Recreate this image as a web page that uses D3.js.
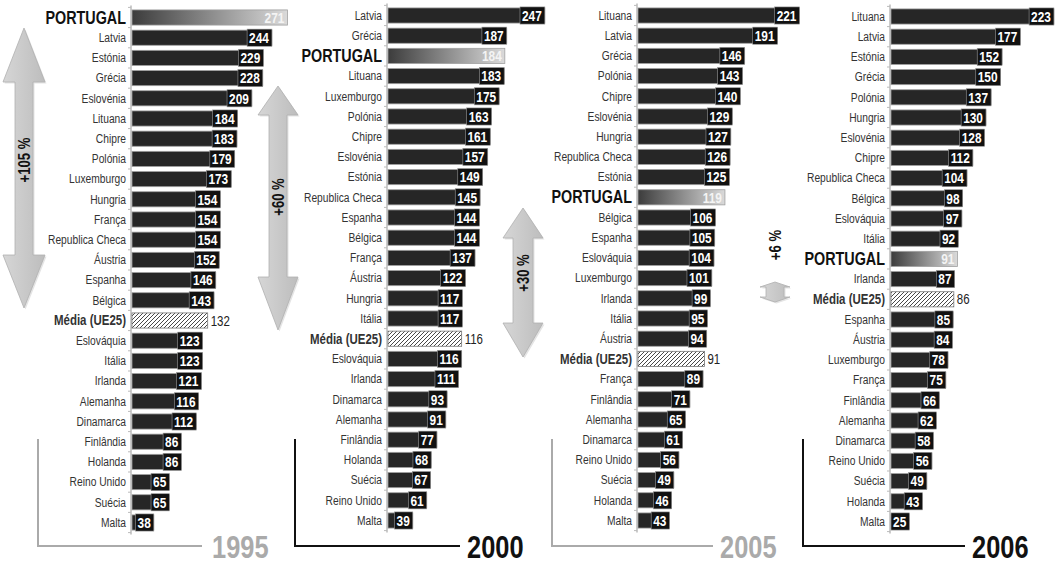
<!DOCTYPE html>
<html>
<head>
<meta charset="utf-8">
<script src="https://cdn.jsdelivr.net/npm/d3@7"></script>
<style>
  html, body { margin: 0; padding: 0; background: #fff; }
  svg { display: block; }
  text { font-family: "Liberation Sans", Arial, sans-serif; }
</style>
</head>
<body>
<svg id="chart" width="1058" height="564"></svg>
<script>
// data
const years = ['1995', '2000', '2005', '2006'];
const growth = ['+105 %', '+60 %', '+30 %', '+6 %'];

const cats1995 = ['PORTUGAL', 'Latvia', 'Estónia', 'Grécia', 'Eslovénia', 'Lituana', 'Chipre', 'Polónia', 'Luxemburgo', 'Hungria', 'França', 'Republica Checa', 'Áustria', 'Espanha', 'Bélgica', 'Média (UE25)', 'Eslováquia', 'Itália', 'Irlanda', 'Alemanha', 'Dinamarca', 'Finlândia', 'Holanda', 'Reino Unido', 'Suécia', 'Malta'];
const vals1995 = [271, 244, 229, 228, 209, 184, 183, 179, 173, 154, 154, 154, 152, 146, 143, 132, 123, 123, 121, 116, 112, 86, 86, 65, 65, 38];

const cats2000 = ['Latvia', 'Grécia', 'PORTUGAL', 'Lituana', 'Luxemburgo', 'Polónia', 'Chipre', 'Eslovénia', 'Estónia', 'Republica Checa', 'Espanha', 'Bélgica', 'França', 'Áustria', 'Hungria', 'Itália', 'Média (UE25)', 'Eslováquia', 'Irlanda', 'Dinamarca', 'Alemanha', 'Finlândia', 'Holanda', 'Suécia', 'Reino Unido', 'Malta'];
const vals2000 = [247, 187, 184, 183, 175, 163, 161, 157, 149, 145, 144, 144, 137, 122, 117, 117, 116, 116, 111, 93, 91, 77, 68, 67, 61, 39];

const cats2005 = ['Lituana', 'Latvia', 'Grécia', 'Polónia', 'Chipre', 'Eslovénia', 'Hungria', 'Republica Checa', 'Estónia', 'PORTUGAL', 'Bélgica', 'Espanha', 'Eslováquia', 'Luxemburgo', 'Irlanda', 'Itália', 'Áustria', 'Média (UE25)', 'França', 'Finlândia', 'Alemanha', 'Dinamarca', 'Reino Unido', 'Suécia', 'Holanda', 'Malta'];
const vals2005 = [221, 191, 146, 143, 140, 129, 127, 126, 125, 119, 106, 105, 104, 101, 99, 95, 94, 91, 89, 71, 65, 61, 56, 49, 46, 43];

const cats2006 = ['Lituana', 'Latvia', 'Estónia', 'Grécia', 'Polónia', 'Hungria', 'Eslovénia', 'Chipre', 'Republica Checa', 'Bélgica', 'Eslováquia', 'Itália', 'PORTUGAL', 'Irlanda', 'Média (UE25)', 'Espanha', 'Áustria', 'Luxemburgo', 'França', 'Finlândia', 'Alemanha', 'Dinamarca', 'Reino Unido', 'Suécia', 'Holanda', 'Malta'];
const vals2006 = [223, 177, 152, 150, 137, 130, 128, 112, 104, 98, 97, 92, 91, 87, 86, 85, 84, 78, 75, 66, 62, 58, 56, 49, 43, 25];

const allCats = [cats1995, cats2000, cats2005, cats2006];
const allVals = [vals1995, vals2000, vals2005, vals2006];

// layout of the four panels
const panels = [
  { axisX: 132, domainMax: 279, top: 7.4, bracketX: 38, lineEnd: 202, yearX: 212, color: '#aaa',
    arrow: { cx: 24, tip1: 28, base1: 82, base2: 255, tip2: 308, head: 21, shaft: 9, ty: 160 } },
  { axisX: 388, domainMax: 252, top: 5.4, bracketX: 295, lineEnd: 460, yearX: 467, color: '#111',
    arrow: { cx: 278, tip1: 86, base1: 115, base2: 277, tip2: 330, head: 20, shaft: 9, ty: 197 } },
  { axisX: 638, domainMax: 219, top: 5.4, bracketX: 552, lineEnd: 713, yearX: 720, color: '#aaa',
    arrow: { cx: 523, tip1: 208, base1: 238, base2: 323, tip2: 357, head: 20, shaft: 10, ty: 273 } },
  { axisX: 891, domainMax: 219, top: 6.4, bracketX: 803, lineEnd: 965, yearX: 972, color: '#111',
    arrow: { cx: 775, tip1: 282, base1: 287, base2: 297, tip2: 302, head: 15, shaft: 9, ty: 245 } }
];

const rowStep = 20.2;
const narrow = 0.82; // squeeze Liberation Sans to look like Arial Narrow
const svg = d3.select('#chart');
const defs = svg.append('defs');

let grad = defs.append('linearGradient').attr('id', 'ptGrad')
  .attr('x1', '0%').attr('x2', '100%').attr('y1', '0%').attr('y2', '0%');
grad.append('stop').attr('offset', '0%').attr('stop-color', '#3c3c3c');
grad.append('stop').attr('offset', '100%').attr('stop-color', '#dadada');

let hatch = defs.append('pattern').attr('id', 'hatch')
  .attr('patternUnits', 'userSpaceOnUse').attr('width', 4).attr('height', 4);
hatch.append('rect').attr('width', 4).attr('height', 4).attr('fill', '#fff');
hatch.append('path').attr('d', 'M-1,1 L1,-1 M0,4 L4,0 M3,5 L5,3')
  .attr('stroke', '#333').attr('stroke-width', 0.9);

let arrowGrad = defs.append('linearGradient').attr('id', 'arrowGrad')
  .attr('x1', '0%').attr('x2', '100%');
arrowGrad.append('stop').attr('offset', '0%').attr('stop-color', '#d6d6d6');
arrowGrad.append('stop').attr('offset', '100%').attr('stop-color', '#bdbdbd');

function arrowPath(a) {
  return `M${a.cx},${a.tip1} L${a.cx + a.head},${a.base1} L${a.cx + a.shaft},${a.base1} ` +
    `L${a.cx + a.shaft},${a.base2} L${a.cx + a.head},${a.base2} L${a.cx},${a.tip2} ` +
    `L${a.cx - a.head},${a.base2} L${a.cx - a.shaft},${a.base2} L${a.cx - a.shaft},${a.base1} ` +
    `L${a.cx - a.head},${a.base1} Z`;
}

// place a text at (x, y) squeezed horizontally
function place(sel, x, y, rot) {
  return sel.attr('transform', `translate(${x},${y})${rot ? ` rotate(${rot})` : ''} scale(${narrow},1)`);
}

panels.forEach((p, i) => {
  let cats = allCats[i], vals = allVals[i];
  let rows = cats.map((c, k) => ({ cat: c, value: vals[k] }));
  let g = svg.append('g').classed('panel', true);

  let x = d3.scaleLinear().domain([0, p.domainMax]).range([p.axisX, p.axisX + 160]);
  let y = d3.scaleBand().domain(cats)
    .range([p.top, p.top + rowStep * cats.length])
    .paddingInner(0.25).paddingOuter(0.125);
  let bh = y.bandwidth();

  // growth arrow
  let a = p.arrow;
  g.append('path').attr('d', arrowPath(a))
    .attr('transform', 'translate(1.5,1.5)')
    .style('fill', '#e4e4e4');
  g.append('path').attr('d', arrowPath(a))
    .style('fill', 'url(#arrowGrad)').style('stroke', '#b0b0b0').style('stroke-width', 0.8);
  place(g.append('text').text(growth[i]), a.cx + 5.5, a.ty, -90)
    .attr('text-anchor', 'middle')
    .style('font-size', '16px').style('font-weight', 'bold').style('fill', '#111');

  // year bracket
  g.append('path')
    .attr('d', `M${p.bracketX},439 L${p.bracketX},546 L${p.lineEnd},546`)
    .style('fill', 'none').style('stroke', p.color).style('stroke-width', 2);
  place(g.append('text').text(years[i]), p.yearX, 558)
    .style('font-size', '31px').style('font-weight', 'bold').style('fill', p.color);

  // axis line with small ticks between rows
  g.append('line')
    .attr('x1', p.axisX - 1).attr('x2', p.axisX - 1)
    .attr('y1', y.range()[0] - 2).attr('y2', y.range()[1] + 2)
    .style('stroke', '#bbb').style('stroke-width', 1.5);
  g.selectAll('line.tick').data(d3.range(cats.length + 1)).enter().append('line')
    .classed('tick', true)
    .attr('x1', p.axisX - 4).attr('x2', p.axisX - 1)
    .attr('y1', k => y.range()[0] + k * y.step())
    .attr('y2', k => y.range()[0] + k * y.step())
    .style('stroke', '#bbb').style('stroke-width', 1);

  // category labels
  g.selectAll('text.cat').data(rows).enter().append('text')
    .classed('cat', true)
    .text(d => d.cat)
    .attr('transform', d => `translate(${p.axisX - 6},${y(d.cat) + bh / 2}) scale(${narrow},1)`)
    .attr('dy', '0.35em')
    .attr('text-anchor', 'end')
    .style('font-size', d => d.cat === 'PORTUGAL' ? '17.5px' : d.cat.startsWith('Média') ? '14px' : '12.5px')
    .style('font-weight', d => d.cat === 'PORTUGAL' || d.cat.startsWith('Média') ? 'bold' : 'normal')
    .style('fill', d => d.cat === 'PORTUGAL' ? '#111' : '#333');

  // bars
  g.selectAll('rect.bar').data(rows).enter().append('rect')
    .classed('bar', true)
    .attr('x', p.axisX)
    .attr('y', d => y(d.cat))
    .attr('width', d => x(d.value) - p.axisX)
    .attr('height', bh)
    .style('fill', d => d.cat === 'PORTUGAL' ? 'url(#ptGrad)' : d.cat.startsWith('Média') ? 'url(#hatch)' : '#262626')
    .style('stroke', d => d.cat.startsWith('Média') ? '#777' : '#a0a0a0')
    .style('stroke-width', 0.8);

  // value labels
  rows.forEach(d => {
    let xe = x(d.value), yc = y(d.cat) + bh / 2;
    if (d.cat.startsWith('Média')) {
      place(g.append('text').text(d.value), xe + 3, yc)
        .attr('dy', '0.36em')
        .style('font-size', '14px').style('fill', '#222');
      return;
    }
    let lab = place(g.append('text').text(d.value), xe - 3, yc)
      .attr('dy', '0.37em')
      .attr('text-anchor', 'end')
      .style('font-size', '14.5px').style('font-weight', 'bold')
      .style('fill', d.cat === 'PORTUGAL' ? '#f4f4f4' : '#fff');
    if (d.cat !== 'PORTUGAL') {
      let w = lab.node().getComputedTextLength() * narrow;
      g.insert('rect', () => lab.node())
        .attr('x', xe - w - 5).attr('y', yc - bh / 2 - 1)
        .attr('width', w + 5).attr('height', bh + 2)
        .style('fill', '#111').style('stroke', '#999').style('stroke-width', 0.6);
    }
  });
});
</script>
</body>
</html>
